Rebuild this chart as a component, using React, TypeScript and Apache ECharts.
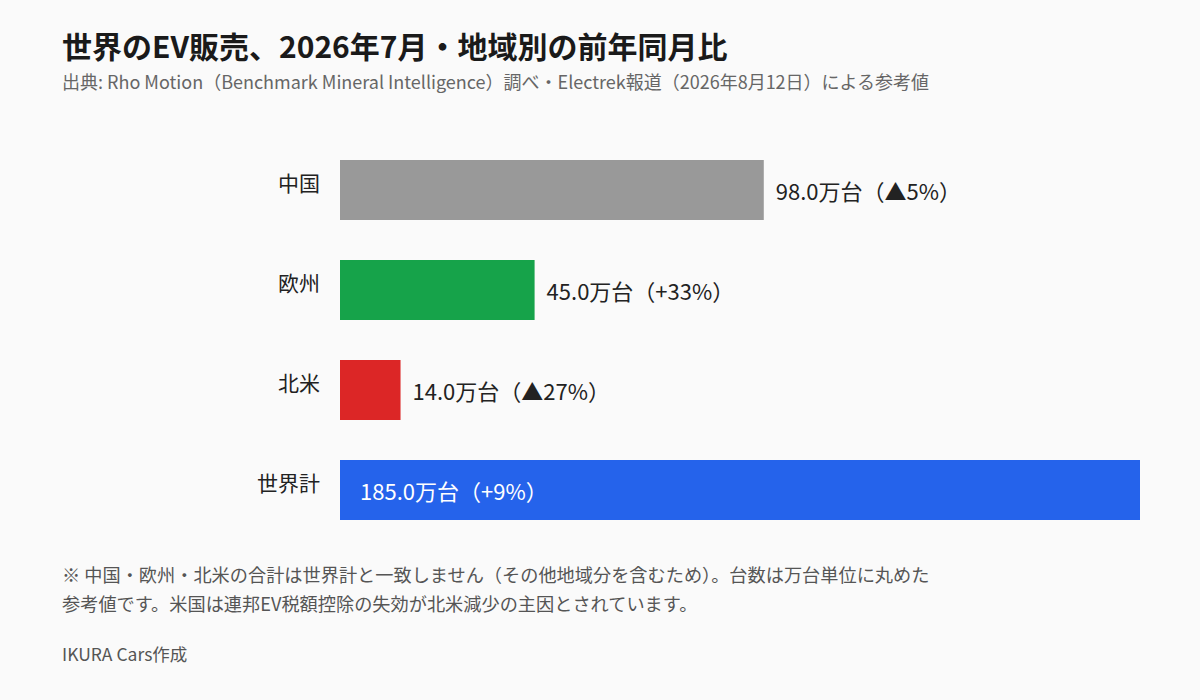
import React, { useEffect, useRef } from "react";
import * as echarts from "echarts";

const categories = ["中国", "欧州", "北米", "世界計"];
const salesMan = [98.0, 45.0, 14.0, 185.0];
const yoyLabels = ["▲5%", "+33%", "▲27%", "+9%"];
const barColors = ["#999999", "#16a34a", "#dc2626", "#2563eb"];

const FONT = "'Noto Sans CJK JP', 'Noto Sans', sans-serif";

export default function App() {
  const ref = useRef<HTMLDivElement>(null);
  useEffect(() => {
    document.body.style.margin = "0";
    const chart = echarts.init(ref.current!, null, { renderer: "svg" });
    const data = salesMan.map((v, i) => {
      const isTotal = i === categories.length - 1;
      return {
        value: v,
        itemStyle: { color: barColors[i] },
        label: isTotal
          ? { position: "insideLeft", distance: 20, color: "#ffffff" }
          : { position: "right", distance: 12, color: "#222222" },
      };
    });
    chart.setOption({
      animation: false,
      backgroundColor: "#fafafa",
      textStyle: { fontFamily: FONT },
      title: {
        text: "世界のEV販売、2026年7月・地域別の前年同月比",
        subtext:
          "出典: Rho Motion（Benchmark Mineral Intelligence）調べ・Electrek報道（2026年8月12日）による参考値",
        left: 57,
        top: 25,
        itemGap: 12,
        textStyle: { fontFamily: FONT, fontSize: 30, fontWeight: "bold", color: "#1a1a1a" },
        subtextStyle: { fontFamily: FONT, fontSize: 18, color: "#666666" },
      },
      grid: { left: 340, right: 60, top: 140, bottom: 160, containLabel: false },
      xAxis: { type: "value", min: 0, max: 185, show: false },
      yAxis: {
        type: "category",
        data: categories,
        inverse: true,
        axisLine: { show: false },
        axisTick: { show: false },
        splitLine: { show: false },
        axisLabel: {
          margin: 20,
          fontSize: 21,
          color: "#222222",
          fontFamily: FONT,
          verticalAlign: "bottom",
          lineHeight: 16,
        },
      },
      series: [
        {
          type: "bar",
          data,
          barWidth: 60,
          label: {
            show: true,
            fontSize: 22,
            fontFamily: FONT,
            formatter: (p: any) =>
              `${salesMan[p.dataIndex].toFixed(1)}万台（${yoyLabels[p.dataIndex]}）`,
          },
        },
      ],
      graphic: [
        {
          type: "text",
          left: 62,
          top: 559,
          style: {
            text:
              "※ 中国・欧州・北米の合計は世界計と一致しません（その他地域分を含むため）。台数は万台単位に丸めた\n参考値です。米国は連邦EV税額控除の失効が北米減少の主因とされています。",
            fontSize: 18.2,
            lineHeight: 29,
            fill: "#555555",
            fontFamily: FONT,
          },
        },
        {
          type: "text",
          left: 62,
          top: 645,
          style: { text: "IKURA Cars作成", fontSize: 17.5, fill: "#555555", fontFamily: FONT },
        },
      ],
    });
    return () => chart.dispose();
  }, []);
  return <div ref={ref} style={{ width: 1200, height: 700 }} />;
}
